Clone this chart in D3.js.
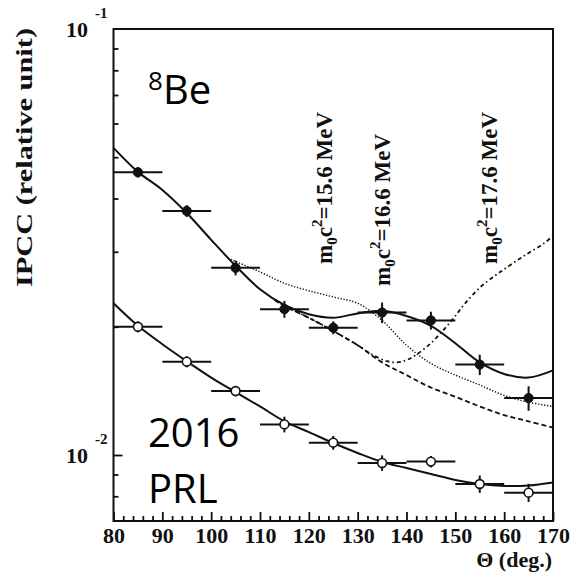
<!DOCTYPE html>
<html>
<head>
<meta charset="utf-8">
<script src="https://cdn.jsdelivr.net/npm/d3@7"></script>
<style>
  html, body { margin: 0; padding: 0; background: #fff; }
  svg { display: block; }
</style>
</head>
<body>
<svg id="chart" width="572" height="574"></svg>
<script>
// Emission angle (deg) of the measured bins
const theta = [85, 95, 105, 115, 125, 135, 145, 155, 165];
const thetaHalfWidth = 5;

// 8Be, 18.15 MeV transition (filled points)
const ipccFilled    = [0.0461, 0.0374, 0.0275, 0.0220, 0.0199, 0.0216, 0.0207, 0.0163, 0.0136];
const ipccFilledErr = [0.0013, 0.0012, 0.0011, 0.0010, 0.0007, 0.0012, 0.0010, 0.0009, 0.0009];

// 8Be, 17.64 MeV transition (open points)
const ipccOpen    = [0.0200, 0.01656, 0.01413, 0.0118, 0.01069, 0.00958, 0.00965, 0.00855, 0.00816];
const ipccOpenErr = [0.0006, 0.0005, 0.0004, 0.0005, 0.0004, 0.0004, 0.0003, 0.0004, 0.0004];

// Fit through the filled points
const fitFilledTheta = [80, 85, 90, 95, 100, 105, 110, 115, 120, 125, 130, 135, 140, 145, 150, 155, 160, 165, 170];
const fitFilled      = [0.0526, 0.0462, 0.0419, 0.0370, 0.0320, 0.0278, 0.0245, 0.0225, 0.0214, 0.0210, 0.0215, 0.0218, 0.0212, 0.0201, 0.0183, 0.0165, 0.0155, 0.0152, 0.0158];

// Fit through the open points
const fitOpenTheta = [80, 85, 90, 95, 100, 105, 110, 115, 120, 125, 130, 135, 140, 145, 150, 155, 160, 165, 170];
const fitOpen      = [0.0227, 0.0201, 0.0182, 0.0166, 0.0152, 0.01405, 0.0130, 0.0120, 0.01132, 0.01067, 0.01011, 0.00963, 0.00932, 0.00902, 0.00874, 0.00855, 0.00846, 0.00848, 0.00862];

// Simulated contributions of a boson with m0c2 = 15.6 MeV (dotted)
const sim156Theta = [104, 110, 115, 120, 125, 130, 135, 140, 145, 150, 155, 160, 165, 170];
const sim156      = [0.0288, 0.0269, 0.0253, 0.0243, 0.0235, 0.0227, 0.0207, 0.0181, 0.0164, 0.0154, 0.0146, 0.0138, 0.0133, 0.0130];

// m0c2 = 16.6 MeV (dashed)
const sim166Theta = [113, 115, 120, 125, 130, 135, 140, 145, 150, 155, 160, 165, 170];
const sim166      = [0.0231, 0.0224, 0.0210, 0.01955, 0.0181, 0.0165, 0.0154, 0.0144, 0.0137, 0.0130, 0.0124, 0.0120, 0.0116];

// m0c2 = 17.6 MeV (dash-dotted)
const sim176Theta = [113, 115, 120, 125, 130, 133, 136, 138, 140, 142, 145, 148, 150, 152, 155, 158, 160, 163, 165, 168, 170];
const sim176      = [0.0231, 0.0224, 0.0210, 0.01955, 0.0181, 0.0172, 0.0166, 0.0165, 0.0167, 0.0172, 0.0183, 0.0199, 0.0212, 0.0227, 0.0247, 0.0263, 0.0273, 0.0288, 0.0298, 0.0313, 0.0327];

// Axis ticks
const xMajorTicks = [80, 90, 100, 110, 120, 130, 140, 150, 160, 170];
const xMinorTicks = d3.range(82, 170, 2).filter(v => v % 10 !== 0);
const yMajorTicks = [0.01];
const yMinorTicks = [0.008, 0.009, 0.02, 0.03, 0.04, 0.05, 0.06, 0.07, 0.08, 0.09];
const yDecadeLabels = [{ value: 0.1, exp: "-1" }, { value: 0.01, exp: "-2" }];

const massLabels = ["15.6", "16.6", "17.6"];

const svg = d3.select("#chart");
const plotLeft = 113.5, plotRight = 553, plotTop = 29, plotBottom = 521;
const ink = "#111111";
const serif = "'Liberation Serif', 'Times New Roman', serif";

const x = d3.scaleLinear().domain([80, 170]).range([plotLeft, plotRight]);
const y = d3.scaleLog().domain([0.007, 0.1]).range([plotBottom, plotTop]);

function styleAxis(g) {
  g.select(".domain").remove();
  g.selectAll(".tick line").attr("stroke", ink).attr("stroke-width", 1.8);
}

// Axes: ticks pointing into the plot
svg.append("g").attr("transform", `translate(0,${plotBottom})`)
  .call(d3.axisTop(x).tickValues(xMinorTicks).tickSize(5).tickFormat(() => ""))
  .call(styleAxis);
svg.append("g").attr("transform", `translate(0,${plotBottom})`)
  .call(d3.axisTop(x).tickValues(xMajorTicks).tickSize(9).tickFormat(() => ""))
  .call(styleAxis);
svg.append("g").attr("transform", `translate(0,${plotBottom})`)
  .call(d3.axisBottom(x).tickValues(xMajorTicks).tickSize(0).tickFormat(d3.format("d")))
  .call(g => g.select(".domain").remove())
  .call(g => g.selectAll(".tick text")
    .attr("y", 22).attr("dy", 0)
    .attr("font-family", serif).attr("font-weight", "bold")
    .attr("font-size", 22).attr("fill", ink));

svg.append("g").attr("transform", `translate(${plotLeft},0)`)
  .call(d3.axisRight(y).tickValues(yMinorTicks).tickSize(5).tickFormat(() => ""))
  .call(styleAxis);
svg.append("g").attr("transform", `translate(${plotLeft},0)`)
  .call(d3.axisRight(y).tickValues(yMajorTicks).tickSize(9).tickFormat(() => ""))
  .call(styleAxis);

// Decade labels written as 10 with a raised exponent
yDecadeLabels.forEach(d => {
  const yy = y(d.value);
  svg.append("text").attr("x", 88).attr("y", yy + 8)
    .attr("text-anchor", "end")
    .attr("font-family", serif).attr("font-weight", "bold")
    .attr("font-size", 22).attr("fill", ink).text("10");
  svg.append("text").attr("x", 95).attr("y", yy - 11)
    .attr("font-family", serif).attr("font-weight", "bold")
    .attr("font-size", 15).attr("fill", ink).text(d.exp);
});

// Frame
svg.append("path")
  .attr("d", `M${plotLeft},${plotTop}H${plotRight}V${plotBottom}H${plotLeft}Z`)
  .attr("fill", "none").attr("stroke", ink).attr("stroke-width", 2);

// Axis titles
svg.append("text")
  .attr("transform", `translate(31.5,${(287 + 28) / 2}) rotate(-90)`)
  .attr("text-anchor", "middle")
  .attr("font-family", serif).attr("font-weight", "bold")
  .attr("font-size", 23).attr("fill", ink)
  .attr("textLength", 259).attr("lengthAdjust", "spacingAndGlyphs")
  .text("IPCC (relative unit)");

svg.append("text")
  .attr("x", 552).attr("y", 567).attr("text-anchor", "end")
  .attr("font-family", serif).attr("font-weight", "bold")
  .attr("font-size", 22).attr("fill", ink)
  .text("Θ (deg.)");

// Curves
const plot = svg.append("g");
const line = d3.line().x(d => x(d[0])).y(d => y(d[1])).curve(d3.curveCatmullRom.alpha(0.5));
const pairs = (t, v) => t.map((a, i) => [a, v[i]]);

plot.append("path").datum(pairs(sim156Theta, sim156)).attr("d", line)
  .attr("fill", "none").attr("stroke", ink).attr("stroke-width", 1.4).attr("stroke-dasharray", "1.3,1.7");
plot.append("path").datum(pairs(sim166Theta, sim166)).attr("d", line)
  .attr("fill", "none").attr("stroke", ink).attr("stroke-width", 1.8).attr("stroke-dasharray", "5,3");
plot.append("path").datum(pairs(sim176Theta, sim176)).attr("d", line)
  .attr("fill", "none").attr("stroke", ink).attr("stroke-width", 1.8).attr("stroke-dasharray", "4,3,1.5,3");
plot.append("path").datum(pairs(fitFilledTheta, fitFilled)).attr("d", line)
  .attr("fill", "none").attr("stroke", ink).attr("stroke-width", 2);
plot.append("path").datum(pairs(fitOpenTheta, fitOpen)).attr("d", line)
  .attr("fill", "none").attr("stroke", ink).attr("stroke-width", 2);

// Data points with error bars
function drawSeries(values, errors, filled) {
  const g = plot.append("g");
  theta.forEach((t, i) => {
    const v = values[i], e = errors[i];
    g.append("line")
      .attr("x1", x(Math.max(80, t - thetaHalfWidth))).attr("x2", x(Math.min(170, t + thetaHalfWidth)))
      .attr("y1", y(v)).attr("y2", y(v))
      .attr("stroke", ink).attr("stroke-width", 2);
    g.append("line")
      .attr("x1", x(t)).attr("x2", x(t))
      .attr("y1", y(v - e)).attr("y2", y(v + e))
      .attr("stroke", ink).attr("stroke-width", 2);
    g.append("circle")
      .attr("cx", x(t)).attr("cy", y(v))
      .attr("r", filled ? 4.6 : 4.4)
      .attr("fill", filled ? ink : "#fff")
      .attr("stroke", ink).attr("stroke-width", filled ? 1 : 1.6);
  });
}
drawSeries(ipccFilled, ipccFilledErr, true);
drawSeries(ipccOpen, ipccOpenErr, false);

// Mass labels, rotated
const massPos = [{ x: 332, y: 264 }, { x: 390, y: 286 }, { x: 497, y: 264 }];
massLabels.forEach((m, i) => {
  const t = svg.append("text")
    .attr("transform", `translate(${massPos[i].x},${massPos[i].y}) rotate(-90)`)
    .attr("font-family", serif).attr("font-weight", "bold")
    .attr("font-size", 23).attr("fill", ink);
  t.append("tspan").text("m");
  t.append("tspan").attr("font-size", 15).attr("dy", 5).text("0");
  t.append("tspan").attr("dy", -5).text("c");
  t.append("tspan").attr("font-size", 15).attr("dy", -10).text("2");
  t.append("tspan").attr("dy", 10).text(`=${m} MeV`);
});

// Nucleus and reference annotations
const note = svg.append("g").attr("font-family", "'Open Sans', sans-serif").attr("fill", "#000");
const be = note.append("text").attr("x", 148).attr("y", 104).attr("font-size", 40);
be.append("tspan").attr("font-size", 26).attr("dy", -14).text("8");
be.append("tspan").attr("dy", 14).text("Be");
note.append("text").attr("x", 148).attr("y", 447).attr("font-size", 40).text("2016");
note.append("text").attr("x", 148).attr("y", 503).attr("font-size", 40).text("PRL");
</script>
</body>
</html>
